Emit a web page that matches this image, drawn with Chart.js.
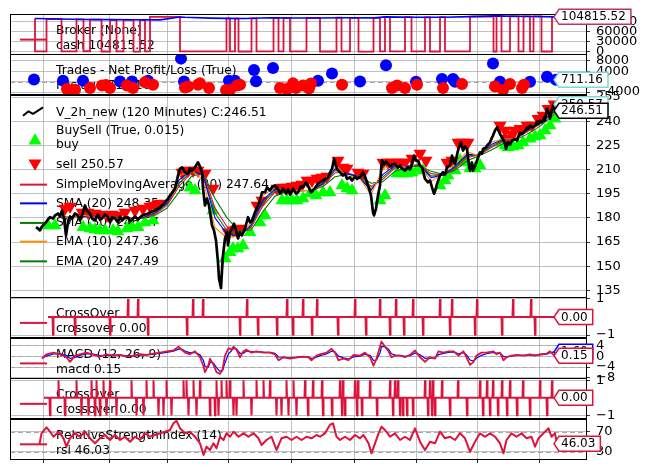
<!DOCTYPE html>
<html><head><meta charset="utf-8"><title>backtrader plot</title>
<script src="https://cdn.jsdelivr.net/npm/chart.js@4.4.1/dist/chart.umd.min.js"></script>
<style>html,body{margin:0;padding:0;background:#fff;overflow:hidden}canvas{display:block}</style>
</head><body><canvas id="chart" width="652" height="474"></canvas>
<script>
// ---------------- DATA ----------------
const xTickBars = [17,149,265,387,513,639,762,885,1009];

const priceBars = [2,6,10,14,20,26,30,36,40,46,50,54,58,62,66,70,74,80,86,90,96,100,104,110,114,120,126,130,134,140,146,150,154,160,166,170,174,180,186,190,196,200,206,214,220,226,234,240,246,250,256,260,266,270,276,280,286,290,294,300,306,310,314,320,326,330,334,336,340,344,348,354,358,362,366,368,372,374,376,380,384,386,390,394,398,402,406,410,414,420,426,430,434,440,446,450,454,460,464,470,474,480,486,490,496,502,506,510,516,522,526,532,536,542,546,552,556,562,566,572,576,582,586,590,594,598,602,604,610,616,620,624,630,634,640,644,650,656,660,664,668,672,676,678,682,686,690,692,694,698,702,706,710,714,720,726,730,734,740,746,750,754,758,762,766,770,774,780,786,790,794,798,802,804,810,816,820,824,830,834,838,840,846,852,856,860,864,868,870,874,876,880,884,890,894,896,902,904,910,914,916,920,924,928,930,936,940,942,946,950,954,960,964,966,970,974,980,984,986,990,994,1000,1004,1006,1010,1014,1018,1020,1024,1028,1030,1034,1038,1042];
const closeVals = [174.2,173.4,172.2,174.7,176.5,179.0,180.4,179.6,181.5,182.7,180.9,184.6,179.6,169.1,177.2,180.9,179.6,182.7,181.5,178.4,183.4,187.7,184.6,182.7,179.6,178.4,182.1,179.0,179.6,182.1,180.4,177.2,180.3,179.6,177.2,180.9,178.4,180.3,180.4,177.8,179.5,180.9,179.0,181.5,182.1,182.7,184.0,184.6,185.8,186.6,188.3,189.7,192.0,193.9,196.4,198.1,206.3,210.6,211.4,208.3,207.5,210.6,209.4,211.4,214.5,211.9,208.2,198.2,187.7,192.0,187.7,175.3,172.2,166.0,152.4,142.4,136.4,147.4,156.7,167.2,171.0,162.9,171.0,173.3,176.4,172.2,167.2,171.0,169.1,173.4,180.4,177.2,178.4,183.5,187.7,190.8,195.9,195.9,198.9,197.0,199.0,200.1,198.1,195.1,198.2,195.1,197.6,194.5,198.1,195.1,195.9,199.5,199.0,202.0,200.1,195.8,197.0,199.5,201.1,202.6,203.2,204.4,205.2,208.2,210.4,216.6,212.5,210.4,208.3,206.3,207.5,204.2,205.1,203.2,205.7,204.2,205.2,208.3,205.7,202.1,198.2,193.9,183.4,181.5,185.8,193.9,200.1,209.4,215.6,213.1,215.0,213.7,211.9,213.1,213.6,211.3,212.5,210.6,209.4,211.4,210.0,213.6,218.7,215.6,215.6,212.5,211.4,204.2,202.1,203.2,199.0,195.0,198.2,201.1,206.3,208.3,206.9,211.4,212.5,218.7,214.4,213.6,221.8,226.9,221.8,224.3,222.8,212.5,209.4,214.4,209.4,211.9,215.6,220.7,219.9,222.8,223.7,224.9,226.9,229.9,231.1,234.2,236.2,233.6,232.1,229.0,226.1,222.8,226.9,225.5,228.0,229.0,228.0,230.0,233.0,232.1,234.2,236.1,235.2,237.3,236.2,237.3,239.8,238.3,240.4,239.3,242.3,240.4,247.7,244.5,241.6,247.7,250.9,246.51];

const maBars = [48,72,96,120,144,168,192,216,240,264,288,312,336,360,384,408,432,456,480,504,528,552,576,600,624,648,672,696,720,744,768,792,816,840,864,888,912,936,960,984,1008,1032,1044];
const ema10Vals = [181.2,179.5,181.6,180.4,180.5,179.3,179.2,180.8,184.0,190.2,206.0,209.8,203.5,174.0,167.5,169.0,177.0,194.0,198.8,196.5,196.9,197.0,202.5,212.5,206.0,205.1,194.5,210.5,213.3,211.3,213.7,202.5,207.5,213.5,221.0,218.5,227.0,229.0,229.0,235.5,239.2,245.5,247.36];
const sma20Vals = [181.0,179.8,181.2,180.8,180.5,179.6,179.3,180.4,183.3,189.2,203.5,209.2,206.5,180.0,170.0,168.5,175.5,191.0,198.0,197.0,196.8,197.1,201.5,210.5,207.5,205.3,197.0,207.0,212.5,211.8,213.2,205.0,206.5,212.0,219.5,219.0,225.5,228.6,229.0,234.5,238.7,244.8,248.35];
const ema20Vals = [180.9,180.0,181.0,180.9,180.6,179.8,179.5,180.2,182.8,188.5,201.5,208.5,207.0,183.0,172.0,169.0,175.0,189.5,197.0,197.2,196.9,197.0,201.0,209.5,207.5,205.5,198.0,205.5,211.8,212.0,213.0,206.0,206.5,211.3,218.5,219.0,224.5,228.2,229.0,234.0,238.3,244.5,247.49];
const sma30Vals = [180.8,180.2,180.8,181.0,180.6,180.0,179.7,180.0,182.3,187.6,199.5,207.8,208.0,186.0,174.5,169.5,174.0,187.5,196.0,197.3,197.0,197.0,200.5,208.0,208.0,205.8,199.5,204.0,211.0,212.0,212.8,207.5,206.5,210.5,217.5,219.0,223.5,227.6,228.8,233.5,237.8,244.0,247.64];
const sma50Vals = [180.5,180.4,180.6,180.8,180.7,180.3,180.0,179.9,181.6,186.0,196.0,205.5,208.0,192.0,180.0,172.0,172.5,184.0,193.5,196.5,197.0,197.0,199.5,205.5,207.0,206.2,201.5,202.5,209.0,211.5,212.3,209.0,207.0,209.5,215.5,218.5,222.0,226.0,228.2,232.0,236.5,242.5,246.57];

const buyBars = [26,40,96,110,120,130,140,156,166,184,194,206,220,236,310,320,356,380,390,396,406,416,430,450,460,494,504,514,524,536,550,562,576,590,614,624,634,690,700,724,734,744,754,766,776,810,820,826,840,850,860,870,880,890,934,940,946,956,966,976,990,1000,1010,1020,1030,1040];
const buyVals = [175.3,175.3,174.1,173.4,172.8,172.2,172.2,172.2,171.6,173.4,174.1,174.1,177.2,178.4,198.9,197.0,184.6,154.8,158.6,161.0,161.0,162.9,171.0,177.2,181.5,190.8,190.8,190.8,190.8,192.0,195.1,193.9,195.8,195.8,200.1,198.2,197.0,190.8,193.9,207.5,207.5,207.5,208.2,210.6,209.4,200.1,203.2,206.3,209.4,215.6,214.4,210.6,210.6,212.5,226.8,224.9,223.7,224.3,224.9,226.8,229.2,230.5,231.1,234.2,237.3,241.6];
const sellBars = [60,70,94,106,120,130,144,154,166,180,200,216,230,240,250,294,306,316,326,340,356,386,396,402,410,444,454,484,494,504,514,524,534,544,554,564,574,584,606,616,624,646,656,696,706,714,724,732,740,754,770,782,824,834,846,856,866,930,940,946,954,960,970,984,994,1006,1016,1026,1038];
const sellVals = [185.8,187.1,183.4,183.4,182.7,182.1,181.5,182.1,181.5,183.4,184.6,185.8,187.1,187.7,188.9,208.2,209.4,209.4,209.4,207.5,198.2,171.0,172.2,172.8,173.4,187.7,190.8,198.2,198.9,198.9,199.5,200.1,200.7,203.2,203.2,204.4,205.1,205.7,215.6,211.3,210.6,208.2,207.5,214.4,214.4,214.4,214.4,214.4,214.4,216.8,219.9,215.6,214.4,215.6,226.8,226.8,226.8,237.3,234.2,229.2,231.7,234.2,235.4,237.3,237.3,241.6,243.5,247.8,250.57];

const cashBars = [0,23,53,83,97,110,133,150,163,177,197,210,220,230,290,383,390,400,407,433,443,477,487,497,510,543,570,603,613,630,647,677,690,700,710,740,753,780,790,810,820,870,917,923,933,950,967,977,990,997,1013,1034,1048,1050];
const cashVals = [100000,1200,97800,900,97200,1500,96500,800,96000,1100,95800,700,95500,1000,104500,900,100200,1300,99800,800,100500,1200,102000,900,101000,1000,101500,800,102500,1100,102000,700,101800,1200,104800,900,104000,1000,103500,800,103800,1300,105500,800,107800,1100,106500,900,106000,1200,106500,800,104815.52,104815.52];
const valueBars = [0,50,100,150,200,250,290,300,350,380,420,470,520,570,620,680,700,760,820,870,920,960,1000,1044];
const valueVals = [100000,98500,97000,96500,96000,95800,104500,103500,101000,100200,100000,102000,101500,101500,102300,101800,104800,103800,103500,105500,107800,106500,106000,104815.52];

const posBars = [56,96,170,194,226,292,298,388,400,438,442,476,566,594,650,702,762,814,836,840,916,930,990,1024,1042];
const posVals = [400,380,100,50,400,8900,100,380,380,4500,200,5300,400,3200,100,6300,0,1050,1000,0,7040,0,0,1900,711.16];
const negBars = [64,76,80,110,134,142,150,184,196,220,236,300,306,326,330,348,382,390,404,410,490,504,516,522,536,548,552,614,714,724,740,764,816,854,920,936,950,974,978];
const negVals = [-2800,-3400,-3100,-2400,-1500,-1300,-2400,-1500,-2400,-250,-1150,-2200,-1900,-1150,-650,-2400,-3200,-3200,-1500,-1150,-2400,-2800,-650,-2400,-1500,-2600,-700,-1150,-2400,-1500,-2400,-1150,-2400,-880,-1900,-3200,-880,-2400,-1150];

const co1Range = [26,1044];
const co1UpBars = [186,206,316,336,424,504,536,564,640,690,722,756,810,834,884,956,992];
const co1DownBars = [36,80,150,226,304,410,446,484,516,554,606,662,710,738,776,830,880,934,1000];

const macdBars = [14,23,37,50,63,70,80,90,103,117,130,143,157,170,183,197,210,223,237,250,263,277,287,293,300,310,320,330,337,340,347,350,357,363,370,375,380,387,393,397,403,410,417,423,433,443,457,470,480,487,497,510,523,537,547,553,563,570,583,593,600,607,617,627,637,650,660,670,677,683,690,693,700,707,713,720,730,740,750,760,770,780,790,800,807,817,827,837,847,857,863,870,877,883,893,903,917,923,930,937,943,953,963,977,990,1000,1010,1023,1030,1037,1043];
const macdVals = [-0.9,0.7,1.3,0.7,-0.4,-2.1,0.2,0.7,1.3,0.5,-0.2,0.7,0.2,0.5,-0.2,0.2,0.7,0.5,0.9,1.3,1.8,2.1,3.5,2.4,1.3,0.7,1.8,-0.4,-3.7,-5.9,-3.2,-0.9,-3.2,-5.9,-6.5,-4.8,0.2,2.9,2.4,3.5,2.4,-0.4,1.8,2.4,1.3,1.8,1.3,1.3,0.7,-1.5,-0.4,-0.9,-0.4,-0.2,-0.4,-1.5,0.2,0.7,1.3,2.7,1.3,-1.5,-0.9,-1.5,0.5,0.2,1.3,-0.4,-3.5,-0.9,3.5,5.4,3.5,1.8,-0.4,0.2,0.2,-0.4,0.5,2.1,-0.4,-2.1,-0.4,-0.9,1.8,1.3,1.8,1.8,0.2,1.8,-0.4,-3.2,-2.1,0.2,1.3,1.3,1.8,0.7,1.3,-1.5,-0.4,0.2,0.5,0.2,0.7,0.2,0.7,0.9,1.8,0.5,0.15];
const signalVals = [-0.6,0.0,0.8,0.9,0.3,-0.8,-0.5,0.3,0.9,0.8,0.2,0.3,0.4,0.4,0.1,0.1,0.4,0.5,0.7,1.0,1.4,1.8,2.6,2.6,1.9,1.2,1.4,0.5,-1.6,-3.8,-4.0,-2.2,-2.5,-4.2,-5.6,-5.4,-2.4,0.9,2.0,2.9,2.7,1.0,1.1,1.9,1.6,1.7,1.5,1.4,1.0,-0.3,-0.4,-0.6,-0.5,-0.3,-0.3,-0.9,-0.4,0.2,0.8,1.8,1.6,0.0,-0.6,-1.1,-0.3,0.0,0.7,0.3,-1.6,-1.4,1.2,3.5,3.6,2.6,0.9,0.4,0.3,-0.1,0.2,1.2,0.5,-0.8,-0.6,-0.7,0.6,1.0,1.4,1.6,0.9,1.3,0.5,-1.4,-1.8,-0.8,0.3,0.9,1.4,1.1,1.2,-0.1,-0.3,0.0,0.3,0.3,0.5,0.4,0.5,0.7,1.3,1.5,1.6];

const co2Range = [18,1044];
const co2UpBars = [47,83,113,123,137,150,193,223,237,263,297,303,317,330,363,373,383,390,417,443,457,470,503,517,540,556,574,610,616,640,646,670,710,720,726,780,790,796,814,846,890,904,916,934,950,976,1010,1034];
const co2DownBars = [30,60,93,107,120,130,143,163,203,217,247,257,273,307,323,350,360,367,397,403,433,483,493,507,523,546,576,594,614,620,644,654,684,716,730,736,744,756,786,794,800,830,864,896,910,926,944,964,990,1024];

const rsiBars = [9,13,23,30,37,47,57,63,70,80,90,100,110,120,130,140,150,160,170,180,190,200,210,220,230,240,250,260,270,277,283,290,300,310,320,330,337,343,350,357,363,370,377,383,390,397,407,417,427,437,447,453,463,473,483,493,503,513,523,533,543,553,563,570,580,590,596,603,610,620,630,640,650,657,667,673,680,687,693,700,710,720,730,740,750,760,770,780,790,800,810,820,830,840,850,860,870,880,890,900,910,920,930,937,943,953,963,973,983,993,1000,1007,1017,1027,1033,1040,1044];
const rsiVals = [45.4,66.8,78.8,70,60,70,56.8,40,56.8,66.8,60,70,56.8,46.8,56.8,63.4,53.4,63.4,53.4,60,50,60,53.4,66.8,60,63.4,66.8,70,73.4,86.8,92,76.8,66.8,70,60,46.8,23.4,40,33.4,46.8,36.8,60,53.4,66.8,60,70,60,66.8,60,66.8,56.8,43.4,53.4,60,33.4,56.8,60,53.4,60,53.4,60,56.8,63.4,60,66.8,84,86.8,60,53.4,60,53.4,63.4,56.8,63.4,46.8,26.8,46.8,66.8,80,73.4,60,66.8,53.4,60,53.4,76.8,50,33.4,50,46.8,70,56.8,60,53.4,66.8,56.8,30,50,66.8,60,66.8,60,46.8,26.8,53.4,66.8,60,66.8,56.8,60,40,56.8,66.8,76.8,60,66.8,46.03];

const brokerTicks = [0,30000,60000,90000];
const tradesTicks = [8000,4000,0,-4000];
const priceTicks = [135,150,165,180,195,210,225,240,255];
const crossTicks = [1,-1];
const macdTicks = [4,0,-4,-8];
const rsiTicks = [70,30];

// ---------------- HELPERS ----------------
const FONT = '"DejaVu Sans", "Liberation Sans", sans-serif';
const CRIMSON = '#dc143c';
const last = a => a[a.length - 1];
const f2 = v => Number(v).toFixed(2);
const pts = (xs, ys) => xs.map((x, i) => ({x, y: ys[i]}));
function spikes(range, ups, downs) {
  const s = ups.map(b => [b, 1]).concat(downs.map(b => [b, -1])).sort((a, b) => a[0] - b[0]);
  const out = [{x: range[0], y: 0}];
  s.forEach(([b, v]) => { out.push({x: b - 1, y: 0}, {x: b, y: v}, {x: b + 1, y: 0}); });
  out.push({x: range[1], y: 0});
  return out;
}
const co1Data = spikes(co1Range, co1UpBars, co1DownBars);
const co2Data = spikes(co2Range, co2UpBars, co2DownBars);
const tickFmt = v => (v < 0 ? '\u2212' + Math.abs(v) : String(v));

function yAxis(weight, min, max, ticks) {
  return {
    type: 'linear', position: 'right', stack: 'panels', stackWeight: weight, min, max,
    afterBuildTicks: s => { s.ticks = ticks.map(v => ({value: v})); },
    afterFit: s => { s.width = 66; },
    grid: {color: '#b0b0b0', lineWidth: 0.8, drawTicks: true, tickLength: 4, tickColor: '#000'},
    border: {display: true, color: '#000', width: 1},
    ticks: {autoSkip: false, padding: 6, color: '#000', font: {family: FONT, size: 13}, callback: v => tickFmt(v)}
  };
}

function line(data, yAxisID, color, width, order, extra) {
  return Object.assign({data, yAxisID, borderColor: color, backgroundColor: color, borderWidth: width,
    pointRadius: 0, fill: false, tension: 0, order, borderJoinStyle: 'round'}, extra || {});
}
function markers(data, yAxisID, color, style, radius, rotation, order) {
  return {data, yAxisID, showLine: false, pointStyle: style, pointRadius: radius, pointRotation: rotation,
    pointBackgroundColor: color, pointBorderColor: color, pointBorderWidth: 0, borderColor: color, order};
}

function drawTri(ctx, x, y, r, down, color) {
  ctx.save(); ctx.translate(x, y); if (down) ctx.rotate(Math.PI);
  ctx.beginPath();
  for (let k = 0; k < 3; k++) {
    const a = k * 2 * Math.PI / 3;
    ctx.lineTo(Math.sin(a) * r, -Math.cos(a) * r);
  }
  ctx.closePath(); ctx.fillStyle = color; ctx.fill(); ctx.restore();
}
function hLine(ctx, x1, x2, y, color, w) {
  ctx.beginPath(); ctx.moveTo(x1, y); ctx.lineTo(x2, y);
  ctx.strokeStyle = color; ctx.lineWidth = w; ctx.stroke();
}

const dashedLines = {yTrades: [0], yMacd: [4, 0, -4], yRsi: [70, 30]};

const btPlugin = {
  id: 'bt',
  beforeDatasetsDraw(chart) {
    const ctx = chart.ctx, S = chart.scales, ca = chart.chartArea;
    ctx.save();
    ctx.setLineDash([5, 3]);
    Object.keys(dashedLines).forEach(id => {
      dashedLines[id].forEach(v => hLine(ctx, ca.left, ca.right, Math.round(S[id].getPixelForValue(v)) + 0.5, '#a8a8a8', 1.2));
    });
    ctx.setLineDash([]);
    ctx.font = '12.3px ' + FONT; ctx.textBaseline = 'middle'; ctx.textAlign = 'left';
    const TX = 56;
    const txt = (s, y) => { ctx.fillStyle = '#000'; ctx.fillText(s, TX, y); };
    const two = (id, l1, l2, handle) => {
      const t = S[id].top; txt(l1, t + 16.8); txt(l2, t + 31.8); handle(t + 25.8);
    };
    const lineHandle = color => y => hLine(ctx, 20, 47, y, color, 2);
    two('yBroker', 'Broker (None)', 'cash ' + f2(last(cashVals)), lineHandle(CRIMSON));
    two('yTrades', 'Trades - Net Profit/Loss (True)', 'Positive ' + f2(last(posVals)), y => {
      ctx.beginPath(); ctx.arc(34, y - 0.5, 6, 0, Math.PI * 2); ctx.fillStyle = '#0000ff'; ctx.fill();
    });
    two('yCo1', 'CrossOver', 'crossover ' + f2(last(co1Data).y), lineHandle(CRIMSON));
    two('yMacd', 'MACD (12, 26, 9)', 'macd ' + f2(last(macdVals)), lineHandle(CRIMSON));
    two('yCo2', 'CrossOver', 'crossover ' + f2(last(co2Data).y), lineHandle(CRIMSON));
    two('yRsi', 'RelativeStrengthIndex (14)', 'rsi ' + f2(last(rsiVals)), lineHandle(CRIMSON));
    const pt = S.yPrice.top;
    const y0 = pt + 17.6;
    txt('V_2h_new (120 Minutes) C:' + f2(last(closeVals)), y0);
    ctx.beginPath(); ctx.moveTo(23, y0 + 3.5); ctx.lineTo(28.5, y0 - 1); ctx.lineTo(33, y0 + 1.5); ctx.lineTo(43, y0 - 5);
    ctx.strokeStyle = '#000'; ctx.lineWidth = 2; ctx.lineJoin = 'round'; ctx.stroke();
    txt('BuySell (True, 0.015)', pt + 35.9);
    txt('buy', pt + 50.2);
    drawTri(ctx, 35, pt + 46, 7.5, false, '#00ff00');
    txt('sell ' + f2(last(sellVals)), pt + 69.9);
    drawTri(ctx, 35, pt + 68.5, 7.5, true, '#ff0000');
    const maRows = [
      ['SimpleMovingAverage (30) ' + f2(last(sma30Vals)), CRIMSON, 89.9],
      ['SMA (20) ' + f2(last(sma20Vals)), '#0000ff', 108.6],
      ['SMA (50) ' + f2(last(sma50Vals)), '#008000', 128.2],
      ['EMA (10) ' + f2(last(ema10Vals)), '#ff8c00', 146.9],
      ['EMA (20) ' + f2(last(ema20Vals)), '#008000', 166.6]
    ];
    maRows.forEach(([s, c, off]) => { txt(s, pt + off); hLine(ctx, 20, 47, pt + off, c, 2); });
    ctx.restore();
  },
  afterDatasetsDraw(chart) {
    const ctx = chart.ctx, S = chart.scales, ca = chart.chartArea;
    ctx.save(); ctx.strokeStyle = '#000'; ctx.lineWidth = 1;
    ['yBroker', 'yTrades', 'yPrice', 'yCo1', 'yMacd', 'yCo2', 'yRsi'].forEach(id => {
      const sc = S[id];
      ctx.strokeRect(Math.round(ca.left) + 0.5, Math.round(sc.top) + 0.5, Math.round(ca.right - ca.left), Math.round(sc.bottom - sc.top));
    });
    ctx.restore();
  },
  afterDraw(chart) {
    const ctx = chart.ctx, S = chart.scales;
    const x0 = S.x.getPixelForValue(1044) - 3;
    ctx.save();
    ctx.font = '12px ' + FONT; ctx.textBaseline = 'middle'; ctx.textAlign = 'left';
    const tag = (id, v, color) => {
      const yc = S[id].getPixelForValue(v);
      const text = f2(v);
      const w = ctx.measureText(text).width;
      const h = 15;
      ctx.beginPath();
      ctx.moveTo(x0, yc); ctx.lineTo(x0 + 5, yc - h / 2); ctx.lineTo(x0 + 12 + w, yc - h / 2);
      ctx.lineTo(x0 + 12 + w, yc + h / 2); ctx.lineTo(x0 + 5, yc + h / 2); ctx.closePath();
      ctx.fillStyle = '#fff'; ctx.fill();
      ctx.strokeStyle = color; ctx.lineWidth = 1.5; ctx.stroke();
      ctx.fillStyle = '#000'; ctx.fillText(text, x0 + 7, yc + 0.5);
    };
    tag('yBroker', last(cashVals), '#c0306a');
    tag('yTrades', last(posVals), '#7fd6d6');
    tag('yPrice', last(sellVals), '#7fd6d6');
    tag('yPrice', last(closeVals), '#000');
    tag('yCo1', last(co1Data).y, CRIMSON);
    tag('yMacd', last(signalVals), '#0000ff');
    tag('yMacd', last(macdVals), CRIMSON);
    tag('yCo2', last(co2Data).y, CRIMSON);
    tag('yRsi', last(rsiVals), CRIMSON);
    ctx.restore();
  }
};

new Chart(document.getElementById('chart'), {
  type: 'line',
  data: {
    datasets: [
      line(pts(valueBars, valueVals), 'yBroker', '#0000ff', 1.6, 1),
      line(pts(cashBars, cashVals), 'yBroker', CRIMSON, 1.8, 2, {stepped: 'after', borderJoinStyle: 'miter'}),
      markers(pts(posBars, posVals), 'yTrades', '#0000ff', 'circle', 6, 0, 2),
      markers(pts(negBars, negVals), 'yTrades', '#ff0000', 'circle', 6, 0, 1),
      line(pts(priceBars, closeVals), 'yPrice', '#000', 2.7, 1),
      line(pts(maBars, ema10Vals), 'yPrice', '#ff8c00', 1.1, 2),
      line(pts(maBars, sma20Vals), 'yPrice', '#0000ff', 1.1, 3),
      line(pts(maBars, sma30Vals), 'yPrice', CRIMSON, 1.1, 4),
      line(pts(maBars, ema20Vals), 'yPrice', '#008000', 1.1, 5),
      line(pts(maBars, sma50Vals), 'yPrice', '#008000', 1.1, 6),
      markers(pts(buyBars, buyVals), 'yPrice', '#00ff00', 'triangle', 7.5, 0, 8),
      markers(pts(sellBars, sellVals), 'yPrice', '#ff0000', 'triangle', 7.5, 180, 7),
      line(co1Data, 'yCo1', CRIMSON, 2, 1, {borderJoinStyle: 'bevel'}),
      line(pts(macdBars, macdVals), 'yMacd', CRIMSON, 1.8, 1),
      line(pts(macdBars, signalVals), 'yMacd', '#0000ff', 1.2, 2),
      line(co2Data, 'yCo2', CRIMSON, 2, 1, {borderJoinStyle: 'bevel'}),
      line(pts(rsiBars, rsiVals), 'yRsi', CRIMSON, 2, 1)
    ]
  },
  options: {
    responsive: false, animation: false, events: [],
    layout: {padding: {left: 10, top: 13, right: 0, bottom: 0}},
    plugins: {legend: {display: false}, tooltip: {enabled: false}},
    scales: {
      x: {
        type: 'linear', position: 'bottom', min: -50, max: 1102,
        afterBuildTicks: s => { s.ticks = xTickBars.map(v => ({value: v})); },
        afterFit: s => { s.height = 15; },
        grid: {color: '#b0b0b0', lineWidth: 0.8, drawTicks: true, tickLength: 4, tickColor: '#000'},
        border: {display: true, color: '#000', width: 1},
        ticks: {autoSkip: false, callback: () => '', padding: 0}
      },
      yBroker: yAxis(1, -7500, 114000, brokerTicks),
      yTrades: yAxis(1, -5040, 10580, tradesTicks),
      yPrice: yAxis(5, 130.8, 256.45, priceTicks),
      yCo1: yAxis(1, -1.14, 1.10, crossTicks),
      yMacd: yAxis(1, -8.05, 6.84, macdTicks),
      yCo2: yAxis(1, -1.17, 1.12, crossTicks),
      yRsi: yAxis(1, 15.4, 96.4, rsiTicks)
    }
  },
  plugins: [btPlugin]
});
</script>
</body></html>
